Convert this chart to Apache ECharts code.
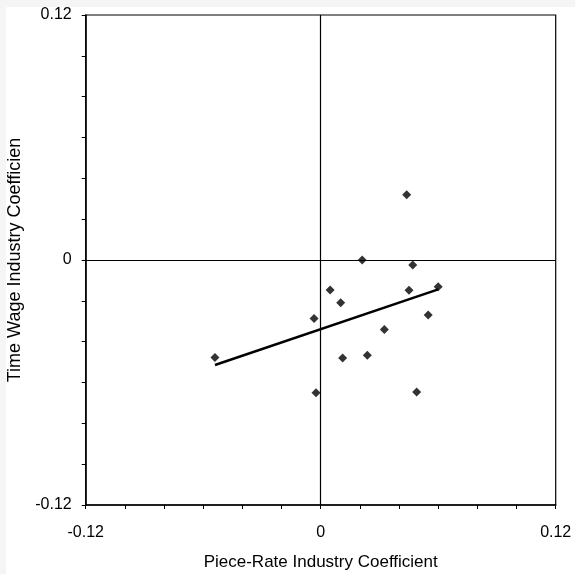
<!DOCTYPE html>
<html><head><meta charset="utf-8">
<script src="https://cdn.jsdelivr.net/npm/echarts@6/dist/echarts.min.js"></script>
<style>
html,body{margin:0;padding:0;background:#f5f5f5;width:575px;height:574px;overflow:hidden;}
#c{position:absolute;left:6px;top:7px;width:569px;height:567px;background:#fff;}
</style></head><body><div id="c"></div>
<script>
const xTitle = 'Piece-Rate Industry Coefficient';
const yTitle = 'Time Wage Industry Coefficien';
const tickLabels = ['-0.12', '0', '0.12'];
const pieceRate = [-0.054, -0.0034, -0.0024, 0.0048, 0.0102, 0.0112, 0.0212, 0.0238, 0.0325, 0.0439, 0.0451, 0.047, 0.049, 0.0549, 0.060];
const timeWage = [-0.0477, -0.0286, -0.065, -0.0147, -0.0209, -0.048, 0.0000, -0.0467, -0.0341, 0.032, -0.0148, -0.0025, -0.0647, -0.0269, -0.0131];
const fitX = [-0.054, 0.060];
const fitY = [-0.0514, -0.0144];

const chart = echarts.init(document.getElementById('c'));
const fmt = v => { const s = tickLabels.find(t => Math.abs(parseFloat(t) - v) < 1e-9); return s === undefined ? '' : s; };
const font = 'Liberation Sans, Arial, sans-serif';
chart.setOption({
  animation: false,
  grid: {left: 79.7, top: 8, right: 19.3, bottom: 69, outerBoundsMode: 'none', containLabel: false,
         show: true, borderColor: '#000', borderWidth: 1.2, backgroundColor: '#fff'},
  xAxis: {
    type: 'value', min: -0.12, max: 0.12, interval: 0.02,
    axisLine: {onZero: false, lineStyle: {color: '#000', width: 1.5}},
    axisTick: {show: true, length: 4, lineStyle: {color: '#000'}},
    axisLabel: {formatter: fmt, color: '#000', fontSize: 16, fontFamily: font, margin: 20, showMinLabel: true, showMaxLabel: true},
    splitLine: {show: false},
    name: xTitle, nameLocation: 'middle', nameGap: 49,
    nameTextStyle: {color: '#000', fontSize: 17, fontFamily: font}
  },
  yAxis: {
    type: 'value', min: -0.12, max: 0.12, interval: 0.02,
    axisLine: {onZero: false, lineStyle: {color: '#000', width: 1.5}},
    axisTick: {show: true, length: 4, lineStyle: {color: '#000'}},
    axisLabel: {formatter: fmt, color: '#000', fontSize: 16, fontFamily: font, margin: 14, showMinLabel: true, showMaxLabel: true},
    splitLine: {show: false},
    name: yTitle, nameLocation: 'middle', nameGap: 54, nameRotate: 90,
    nameTextStyle: {color: '#000', fontSize: 18, fontFamily: font}
  },
  series: [
    {
      type: 'scatter', symbol: 'diamond', symbolSize: 9,
      itemStyle: {color: '#000'},
      data: pieceRate.map((x, i) => [x, timeWage[i]]),
      markLine: {
        silent: true, symbol: ['none', 'none'], label: {show: false},
        lineStyle: {color: '#000', width: 1.2, type: 'solid'},
        data: [{xAxis: 0}, {yAxis: 0}]
      },
      z: 3
    },
    {
      type: 'line', showSymbol: false, symbol: 'none',
      lineStyle: {color: '#000', width: 2.5},
      data: fitX.map((x, i) => [x, fitY[i]]),
      z: 4
    }
  ]
});
</script></body></html>
